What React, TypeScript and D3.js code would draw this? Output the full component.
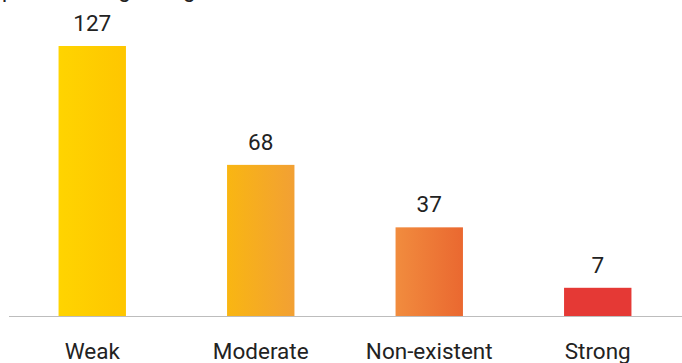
import React from "react";
import * as d3 from "d3";

const categories = ["Weak", "Moderate", "Non-existent", "Strong"];
const values = [127, 68, 37, 7];
const titleText = "perceived signalling.";

// bar gradients: [left, right]
const barColors: [string, string][] = [
  ["#FFD400", "#FEC600"],
  ["#F9B612", "#F2A034"],
  ["#F18C3E", "#EA6830"],
  ["#E53935", "#E53935"],
];

const width = 682;
const height = 363;
const baseY = 316;
const topY = 46;

export default function App() {
  const x = d3.scaleBand().domain(categories).range([8, 682]).paddingInner(0.6).paddingOuter(0.3);
  const y = d3.scaleLinear().domain([-7, 127]).range([baseY, topY]);
  const font = "Roboto, 'Noto Sans', sans-serif";

  return (
    <svg width={width} height={height} style={{ position: "absolute", left: 0, top: 0 }}>
      <defs>
        {barColors.map((c, i) => (
          <linearGradient key={i} id={`g${i}`} x1="0" x2="1" y1="0" y2="0">
            <stop offset="0%" stopColor={c[0]} />
            <stop offset="100%" stopColor={c[1]} />
          </linearGradient>
        ))}
      </defs>
      <text x={2} y={-3} fontFamily={font} fontSize={22} fill="#222">{titleText}</text>
      {categories.map((c, i) => {
        const bx = x(c)!;
        const bw = x.bandwidth();
        return (
          <g key={c}>
            <rect x={bx} y={y(values[i])} width={bw} height={baseY - y(values[i])} fill={`url(#g${i})`} />
            <text x={bx + bw / 2} y={y(values[i]) - 15} textAnchor="middle" fontFamily={font} fontSize={22.5} fill="#222">
              {values[i]}
            </text>
            <text x={bx + bw / 2} y={359} textAnchor="middle" fontFamily={font} fontSize={22.5} fill="#222">
              {c}
            </text>
          </g>
        );
      })}
      <line x1={9} x2={682} y1={baseY + 0.5} y2={baseY + 0.5} stroke="#BDBDBD" strokeWidth={1.2} />
    </svg>
  );
}
